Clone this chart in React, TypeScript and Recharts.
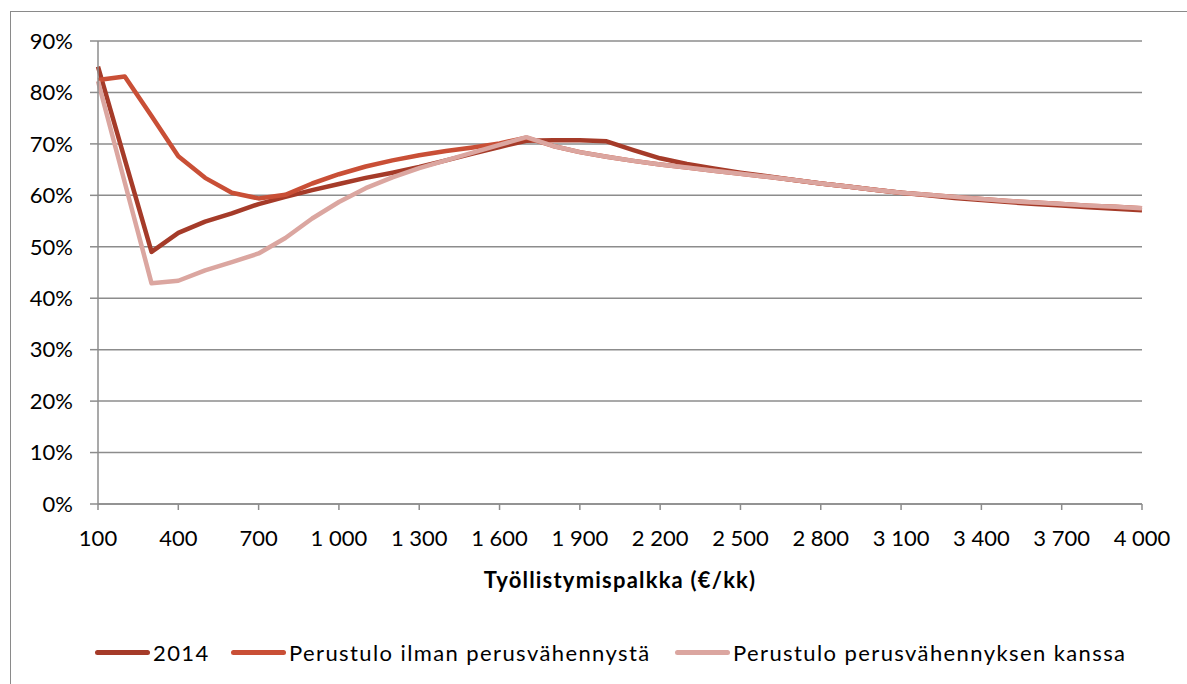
import * as React from "react";
import { LineChart, Line, XAxis, YAxis, CartesianGrid, Legend } from "recharts";

// Työllistymispalkka (€/kk)
const salaries = [
  100, 200, 300, 400, 500, 600, 700, 800, 900, 1000,
  1100, 1200, 1300, 1400, 1500, 1600, 1700, 1800, 1900, 2000,
  2100, 2200, 2300, 2400, 2500, 2600, 2700, 2800, 2900, 3000,
  3100, 3200, 3300, 3400, 3500, 3600, 3700, 3800, 3900, 4000,
];

// percent values
const y2014 = [
  85, 67, 49, 52.7, 54.9, 56.5, 58.3, 59.7, 61, 62.2,
  63.4, 64.4, 65.5, 66.8, 68.1, 69.4, 70.6, 70.7, 70.7, 70.5,
  68.8, 67.2, 66.1, 65.2, 64.4, 63.7, 63.0, 62.3, 61.7, 61.1,
  60.5, 60.0, 59.5, 59.1, 58.7, 58.3, 58.0, 57.7, 57.4, 57.1,
];

const ilmanPerusvah = [
  82.4, 83.1, 75.4, 67.6, 63.4, 60.5, 59.4, 60.1, 62.3, 64.1,
  65.6, 66.8, 67.8, 68.6, 69.3, 70.1, 71.2, 69.6, 68.4, 67.5,
  66.7, 66.0, 65.4, 64.8, 64.2, 63.6, 63.0, 62.3, 61.7, 61.1,
  60.5, 60.1, 59.7, 59.3, 58.9, 58.6, 58.3, 58.0, 57.8, 57.5,
];

const perusvahKanssa = [
  82.2, 62.5, 42.9, 43.4, 45.4, 47.0, 48.7, 51.7, 55.5, 58.7,
  61.4, 63.5, 65.3, 66.8, 68.3, 69.8, 71.3, 69.6, 68.4, 67.5,
  66.7, 66.0, 65.4, 64.8, 64.2, 63.6, 63.0, 62.3, 61.7, 61.1,
  60.5, 60.1, 59.7, 59.3, 58.9, 58.6, 58.3, 58.0, 57.8, 57.5,
];

const xTicks = [100, 400, 700, 1000, 1300, 1600, 1900, 2200, 2500, 2800, 3100, 3400, 3700, 4000];
const yTicks = [0, 10, 20, 30, 40, 50, 60, 70, 80, 90];

const series = [
  { key: "s2014", name: "2014", color: "#a53b29" },
  { key: "ilman", name: "Perustulo ilman perusvähennystä", color: "#c94f36" },
  { key: "kanssa", name: "Perustulo perusvähennyksen kanssa", color: "#dba6a0" },
];

const data = salaries.map((s, i) => ({
  salary: s,
  s2014: y2014[i],
  ilman: ilmanPerusvah[i],
  kanssa: perusvahKanssa[i],
}));

const FONT = "Lato, 'Open Sans', sans-serif";
const GRID = "#8c8c8c";

const fmtThousands = (v: number) => {
  const s = String(v);
  return s.length > 3 ? s.slice(0, s.length - 3) + " " + s.slice(-3) : s;
};

function LegendContent() {
  const starts = [95, 231, 675];
  return (
    <div style={{ position: "relative", width: 1187, height: 32, fontFamily: FONT, fontSize: 22, color: "#000", letterSpacing: 1.4 }}>
      {series.map((s, i) => (
        <div
          key={s.key}
          style={{ position: "absolute", left: starts[i], top: 0, height: 32, display: "flex", alignItems: "center", whiteSpace: "nowrap" }}
        >
          <span style={{ display: "inline-block", width: 55, height: 5, borderRadius: 3, background: s.color, marginRight: 3 }} />
          <span>{s.name}</span>
        </div>
      ))}
    </div>
  );
}

export default function App() {
  return (
    <div style={{ position: "absolute", left: 0, top: 0, width: 1187, height: 684, background: "#fff", overflow: "hidden" }}>
      <div style={{ position: "absolute", left: 10, top: 11, width: 1250, height: 700, border: "1px solid #8a8a8a" }} />
      <LineChart width={1187} height={684} data={data} margin={{ top: 41, right: 45, left: 0, bottom: 90 }}>
        <CartesianGrid horizontal vertical={false} stroke={GRID} strokeWidth={1.5} />
        <XAxis
          dataKey="salary"
          type="number"
          domain={[100, 4000]}
          ticks={xTicks}
          tickFormatter={fmtThousands}
          interval={0}
          height={90}
          stroke={GRID}
          strokeWidth={1.5}
          tickSize={6}
          tickMargin={20}
          tick={{ fill: "#000", fontFamily: FONT, fontSize: 22 }}
          label={{ value: "Työllistymispalkka (€/kk)", position: "insideBottom", offset: 6, fill: "#000", fontFamily: FONT, fontSize: 22, fontWeight: 700, letterSpacing: 1.2 }}
        />
        <YAxis
          domain={[0, 90]}
          ticks={yTicks}
          interval={0}
          width={98}
          stroke={GRID}
          strokeWidth={1.5}
          tickSize={8}
          tickMargin={17}
          tickFormatter={(v: number) => `${v}%`}
          tick={{ fill: "#000", fontFamily: FONT, fontSize: 22 }}
        />
        <Legend verticalAlign="middle" align="center" layout="horizontal" wrapperStyle={{ top: 636, left: 0, width: 1187 }} content={<LegendContent />} />
        {series.map((s) => (
          <Line
            key={s.key}
            type="linear"
            dataKey={s.key}
            name={s.name}
            stroke={s.color}
            strokeWidth={4.5}
            strokeLinejoin="round"
            dot={false}
            activeDot={false}
            isAnimationActive={false}
          />
        ))}
      </LineChart>
    </div>
  );
}
